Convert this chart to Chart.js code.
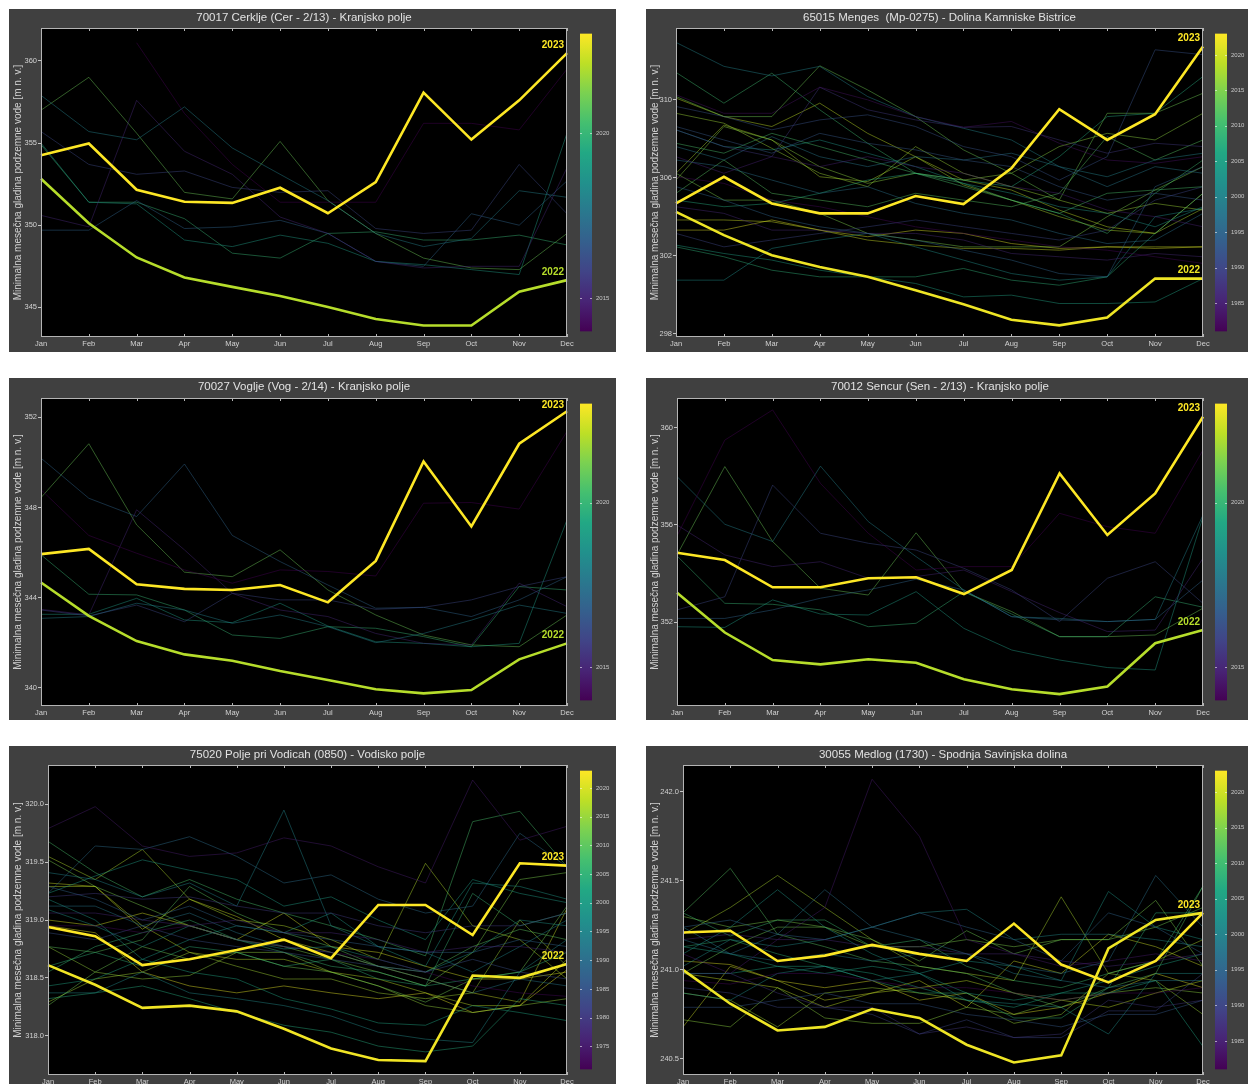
<!DOCTYPE html>
<html>
<head>
<meta charset="utf-8">
<title>Minimalne mesečne gladine podzemne vode</title>
<script src="https://cdn.jsdelivr.net/npm/chart.js@4.4.1/dist/chart.umd.min.js"></script>
<style>
  body { margin: 0; background: #fff; width: 1248px; height: 1084px; overflow: hidden; position: relative; }
  .panel { position: absolute; background: #404040; }
  .panel canvas { display: block; }
</style>
</head>
<body>
<div class="panel" style="left:9px;top:9px;width:607px;height:343px"><canvas id="c1" width="607" height="343"></canvas></div>
<div class="panel" style="left:646px;top:9px;width:602px;height:343px"><canvas id="c2" width="602" height="343"></canvas></div>
<div class="panel" style="left:9px;top:378px;width:607px;height:342px"><canvas id="c3" width="607" height="342"></canvas></div>
<div class="panel" style="left:646px;top:378px;width:602px;height:342px"><canvas id="c4" width="602" height="342"></canvas></div>
<div class="panel" style="left:9px;top:746px;width:607px;height:338px"><canvas id="c5" width="607" height="338"></canvas></div>
<div class="panel" style="left:646px;top:746px;width:602px;height:338px"><canvas id="c6" width="602" height="338"></canvas></div>

<script>
const months = ['Jan', 'Feb', 'Mar', 'Apr', 'May', 'Jun', 'Jul', 'Aug', 'Sep', 'Oct', 'Nov', 'Dec'];
const yAxisTitle = 'Minimalna mesečna gladina podzemne vode [m n. v.]';

// 70017 Cerklje
const cerkljeYears = [2014, 2015, 2016, 2017, 2018, 2019, 2020, 2021];
const cerkljeLevels = [
    [null, null, 361.1, 356.8, 353.7, 351.4, 351.4, 351.4, 356.2, 356.2, 355.8, 359.5],
    [350.6, 349.9, 357.6, 354.5, 353.1, 350.5, 349.5, 347.8, 347.4, 347.5, 347.5, 353.5],
    [355.7, 353.7, 353.1, 353.3, 352.3, 352.0, 352.1, 349.8, 349.5, 349.7, 353.7, 350.7],
    [349.7, 349.7, 351.5, 349.8, 349.9, 350.3, 349.5, 347.8, 347.5, 350.7, 350.0, 352.7],
    [357.9, 355.7, 355.2, 357.2, 354.7, 353.1, 351.5, 349.5, 348.7, 349.2, 352.1, 351.7],
    [355.0, 351.4, 351.3, 349.1, 348.7, 349.4, 348.9, 347.8, 347.6, 347.3, 347.0, 355.6],
    [354.9, 351.4, 351.4, 350.4, 348.3, 348.0, 349.5, 349.6, 349.1, 349.1, 349.4, 348.8],
    [357.0, 359.0, 355.6, 352.0, 351.6, 355.1, 351.5, 349.5, 348.0, 347.4, 347.3, 349.5]
];
const cerklje2022 = [352.83, 350.12, 348.04, 346.82, 346.25, 345.7, 345.03, 344.3, 343.9, 343.9, 345.95, 346.66];
const cerklje2023 = [354.26, 354.97, 352.16, 351.43, 351.36, 352.28, 350.73, 352.63, 358.07, 355.21, 357.6, 360.47];
const cerkljeTicks = [345, 350, 355, 360];
const cerkljeBarTicks = [2015, 2020];

// 65015 Menges
const mengesYears = [1982, 1983, 1985, 1986, 1988, 1990, 1992, 1993, 1995, 1997, 1998, 2000, 2002, 2003,
    2005, 2007, 2008, 2010, 2011, 2012, 2014, 2015, 2016, 2017, 2018, 2019, 2020, 2021];
const mengesLevels = [
    [306.05, 305.71, 304.85, 304.51, 304.0, 303.48, 303.14, 302.8, 302.45, 302.28, 301.94, 301.6],
    [310.26, 309.31, 309.31, 310.65, 310.0, 309.14, 308.59, 308.89, 307.77, 306.91, 306.74, 307.08],
    [307.08, 306.23, 307.08, 306.57, 307.08, 306.57, 306.23, 305.54, 305.2, 304.34, 304.0, 303.48],
    [304.51, 304.17, 303.31, 303.31, 303.14, 303.14, 302.8, 302.11, 301.94, 301.77, 302.11, 301.94],
    [308.46, 307.6, 307.08, 310.65, 309.49, 308.97, 308.59, 308.63, 307.94, 307.26, 307.77, 307.6],
    [303.14, 302.45, 302.8, 303.14, 303.48, 303.83, 303.48, 303.14, 302.8, 303.31, 304.85, 305.54],
    [309.66, 309.14, 308.46, 308.97, 309.23, 308.63, 307.6, 307.08, 305.88, 307.08, 312.57, 312.32],
    [308.63, 307.94, 307.26, 308.28, 307.77, 307.43, 306.91, 306.57, 305.54, 304.85, 305.2, 304.85],
    [305.54, 304.85, 304.0, 303.48, 303.14, 302.8, 302.28, 301.77, 301.08, 300.91, 305.54, 306.57],
    [306.91, 306.57, 305.88, 305.2, 305.54, 304.68, 304.17, 303.83, 303.14, 302.62, 302.8, 304.17],
    [307.6, 306.91, 308.11, 307.08, 306.57, 307.08, 306.91, 307.26, 306.57, 305.54, 306.57, 306.23],
    [312.95, 311.72, 311.23, 311.72, 310.17, 309.14, 308.54, 307.94, 306.57, 306.05, 306.91, 307.26],
    [300.74, 300.74, 302.37, 302.8, 303.14, 302.45, 301.77, 301.08, 300.74, 300.91, 304.0, 304.42],
    [308.46, 307.6, 307.43, 307.94, 307.26, 306.57, 305.71, 305.2, 304.51, 304.17, 303.48, 304.51],
    [302.54, 302.11, 301.77, 301.25, 300.91, 300.57, 299.88, 299.97, 299.54, 299.54, 299.62, 300.82],
    [304.85, 304.51, 304.68, 305.2, 305.88, 306.23, 305.88, 305.54, 307.08, 309.14, 309.31, 311.2],
    [302.45, 301.94, 301.25, 300.91, 300.91, 300.91, 301.34, 300.74, 300.48, 300.91, 303.14, 305.2],
    [311.41, 309.83, 311.37, 309.49, 307.77, 306.23, 305.71, 304.85, 304.17, 303.14, 305.2, 306.91],
    [307.77, 307.26, 308.28, 307.6, 306.91, 306.23, 305.54, 304.85, 304.17, 305.2, 305.37, 305.54],
    [305.2, 306.91, 305.2, 304.85, 304.51, 305.2, 304.85, 304.51, 305.2, 308.11, 306.91, 307.94],
    [310.17, 309.14, 309.14, 311.75, 310.51, 309.14, 307.43, 306.23, 304.85, 309.31, 309.31, 310.34],
    [306.23, 304.85, 304.85, 304.17, 303.14, 302.8, 302.45, 302.45, 302.45, 304.0, 305.37, 306.57],
    [305.88, 308.63, 307.94, 306.57, 305.71, 306.23, 305.88, 306.23, 307.6, 308.28, 307.94, 309.31],
    [309.31, 308.8, 307.51, 306.23, 305.54, 307.6, 306.23, 305.54, 304.85, 304.17, 304.68, 304.34],
    [306.23, 308.71, 307.94, 306.05, 305.8, 307.08, 305.63, 304.85, 304.0, 303.31, 303.14, 304.42],
    [310.09, 309.14, 308.63, 309.83, 308.28, 307.08, 305.88, 305.37, 304.34, 303.48, 303.14, 305.2],
    [303.83, 303.83, 303.74, 303.31, 302.8, 302.54, 302.37, 302.37, 302.28, 302.45, 302.45, 302.45],
    [303.31, 303.31, 303.83, 303.31, 302.97, 303.31, 303.14, 302.62, 302.37, 302.45, 302.37, 302.45]
];
const menges2022 = [304.25, 303.05, 302.02, 301.42, 300.91, 300.22, 299.5, 298.71, 298.42, 298.82, 300.82, 300.82];
const menges2023 = [304.68, 306.05, 304.68, 304.17, 304.17, 305.06, 304.65, 306.48, 309.52, 307.94, 309.26, 312.74];
const mengesTicks = [298, 302, 306, 310];
const mengesBarTicks = [1985, 1990, 1995, 2000, 2005, 2010, 2015, 2020];

// 70027 Voglje
const vogljeYears = [2014, 2015, 2016, 2017, 2018, 2019, 2020, 2021];
const vogljeLevels = [
    [348.79, 346.76, 345.97, 345.23, 344.64, 345.23, 345.16, 344.96, 348.19, 348.22, 347.93, 351.38],
    [343.48, 343.23, 347.9, 346.12, 344.19, 343.45, 343.16, 342.41, 341.97, 341.9, 344.64, 343.6],
    [343.45, 343.19, 343.67, 342.93, 344.19, 343.9, 343.9, 343.48, 343.57, 343.9, 344.49, 344.93],
    [350.19, 348.41, 347.6, 349.93, 346.76, 345.6, 344.56, 343.53, 343.57, 343.16, 343.9, 344.93],
    [343.08, 343.16, 343.75, 343.45, 342.86, 343.23, 342.71, 342.0, 342.41, 343.0, 343.67, 343.3],
    [343.26, 343.26, 343.97, 343.01, 342.89, 343.75, 342.74, 342.04, 341.97, 341.82, 341.97, 347.45],
    [345.9, 344.15, 344.12, 343.45, 342.34, 342.19, 342.71, 342.64, 342.27, 341.82, 344.49, 344.34],
    [348.44, 350.83, 347.23, 345.13, 344.93, 346.12, 344.34, 343.23, 342.34, 341.9, 341.82, 343.23]
];
const voglje2022 = [344.67, 343.19, 342.07, 341.48, 341.2, 340.74, 340.34, 339.93, 339.75, 339.9, 341.26, 341.97];
const voglje2023 = [345.93, 346.16, 344.59, 344.39, 344.34, 344.56, 343.79, 345.63, 350.04, 347.16, 350.83, 352.27];
const vogljeTicks = [340, 344, 348, 352];
const vogljeBarTicks = [2015, 2020];

// 70012 Sencur
const sencurYears = [2014, 2015, 2016, 2017, 2018, 2019, 2020, 2021];
const sencurLevels = [
    [355.55, 359.49, 360.73, 357.71, 355.66, 354.15, 354.29, 354.29, 356.48, 355.93, 355.66, 359.08],
    [356.0, 354.77, 354.29, 354.49, 353.81, 353.88, 354.15, 353.26, 352.4, 351.62, 351.68, 354.63],
    [352.51, 353.05, 357.64, 355.66, 355.25, 354.97, 354.22, 353.33, 352.03, 353.81, 354.49, 352.78],
    [352.16, 352.16, 352.51, 352.99, 353.33, 353.77, 353.33, 352.23, 352.1, 352.03, 352.12, 353.74],
    [357.99, 356.03, 355.32, 358.42, 356.14, 354.7, 353.33, 352.23, 352.16, 352.03, 352.12, 356.41],
    [351.82, 351.79, 352.92, 352.34, 352.3, 353.26, 351.75, 350.86, 350.45, 350.14, 350.04, 356.34],
    [354.73, 352.78, 352.74, 352.51, 351.82, 351.96, 353.26, 352.34, 351.41, 351.41, 353.05, 352.62],
    [354.77, 358.4, 355.32, 353.4, 353.12, 355.68, 353.26, 352.44, 351.41, 351.41, 351.48, 352.58]
];
const sencur2022 = [353.22, 351.58, 350.45, 350.27, 350.48, 350.34, 349.66, 349.25, 349.05, 349.36, 351.14, 351.68];
const sencur2023 = [354.86, 354.56, 353.44, 353.44, 353.81, 353.85, 353.16, 354.15, 358.12, 355.59, 357.3, 360.45];
const sencurTicks = [352, 356, 360];
const sencurBarTicks = [2015, 2020];

// 75020 Polje pri Vodicah
const vodiceYears = [1972, 1975, 1977, 1980, 1984, 1988, 1990, 1992, 1995, 1996, 1998, 1999, 2000, 2002,
    2003, 2005, 2006, 2008, 2010, 2012, 2013, 2015, 2016, 2017, 2018, 2019, 2020, 2021];
const vodiceLevels = [
    [318.95, 318.95, 318.89, 318.95, 318.83, 318.77, 318.72, 318.66, 318.55, 318.43, 318.37, 318.34],
    [319.79, 319.98, 319.64, 319.55, 319.58, 319.71, 319.64, 319.46, 319.32, 320.21, 319.69, 319.81],
    [319.06, 319.06, 319.0, 318.95, 319.0, 318.89, 318.89, 318.83, 318.72, 318.77, 318.77, 318.72],
    [319.2, 319.23, 319.18, 319.2, 319.12, 319.06, 319.06, 318.95, 318.89, 318.95, 318.95, 319.06],
    [318.89, 318.83, 318.95, 318.83, 318.77, 318.72, 318.66, 318.6, 318.55, 318.66, 318.55, 318.49],
    [319.29, 319.18, 319.0, 319.12, 318.95, 318.89, 318.83, 318.77, 318.72, 318.72, 318.83, 318.77],
    [319.23, 319.64, 319.61, 319.72, 319.55, 319.32, 319.39, 319.18, 319.06, 319.12, 319.75, 319.46],
    [319.12, 319.12, 318.95, 319.06, 318.89, 318.77, 318.72, 318.6, 318.49, 318.37, 318.49, 318.43],
    [319.41, 319.35, 319.2, 319.32, 319.12, 319.95, 318.95, 318.77, 318.72, 318.55, 318.77, 319.0],
    [318.37, 318.37, 318.55, 318.37, 318.32, 318.26, 318.17, 318.03, 317.97, 317.94, 318.55, 318.83],
    [319.09, 318.95, 318.77, 318.95, 318.83, 318.75, 318.77, 318.66, 318.55, 318.72, 319.0, 318.95],
    [319.18, 319.0, 318.66, 318.83, 318.95, 318.89, 319.06, 318.77, 318.6, 319.32, 319.29, 319.18],
    [319.23, 319.38, 319.52, 319.43, 319.35, 319.12, 319.2, 319.0, 318.83, 319.35, 319.23, 319.15],
    [318.43, 318.49, 318.66, 318.55, 318.49, 318.32, 318.23, 318.11, 318.09, 318.26, 318.2, 318.13],
    [318.32, 318.37, 318.43, 318.32, 318.2, 318.09, 318.03, 317.91, 317.86, 317.91, 318.32, 318.26],
    [318.6, 318.72, 318.6, 318.77, 318.72, 318.6, 318.66, 318.49, 318.43, 318.49, 318.55, 318.72],
    [318.55, 318.77, 318.89, 319.0, 318.83, 318.72, 318.6, 318.55, 318.43, 319.23, 318.95, 319.06],
    [319.68, 319.41, 319.2, 319.35, 319.18, 319.06, 318.95, 318.83, 318.69, 319.85, 319.94, 319.46],
    [318.77, 318.72, 318.83, 319.29, 319.06, 318.89, 318.77, 318.6, 318.55, 318.77, 318.92, 318.83],
    [318.26, 318.55, 318.77, 318.66, 318.72, 318.6, 318.55, 318.43, 318.29, 318.49, 318.55, 319.12],
    [319.52, 319.29, 319.12, 318.95, 318.83, 318.77, 318.66, 318.55, 318.43, 318.72, 319.35, 319.41],
    [318.77, 318.55, 318.49, 318.52, 318.72, 318.72, 318.55, 318.43, 318.26, 318.2, 318.26, 318.32],
    [318.29, 318.49, 318.55, 318.72, 318.6, 318.49, 318.49, 318.37, 318.32, 318.37, 319.0, 318.6],
    [319.55, 319.35, 319.61, 319.18, 319.0, 318.95, 318.83, 318.66, 319.49, 318.95, 318.83, 318.49],
    [319.29, 319.29, 318.95, 318.72, 318.66, 318.66, 318.55, 318.49, 318.37, 318.26, 318.26, 318.66],
    [319.32, 319.29, 318.92, 319.18, 319.03, 318.83, 318.72, 318.6, 318.49, 318.37, 318.29, 319.1],
    [319.0, 318.95, 319.06, 318.95, 318.83, 319.06, 318.77, 318.72, 318.6, 318.49, 318.49, 318.55],
    [318.95, 318.89, 318.55, 318.43, 318.37, 318.43, 318.37, 318.32, 318.37, 318.2, 318.26, 318.57]
];
const vodice2022 = [318.61, 318.44, 318.24, 318.26, 318.21, 318.06, 317.89, 317.79, 317.78, 318.52, 318.5, 318.62];
const vodice2023 = [318.94, 318.86, 318.61, 318.66, 318.74, 318.83, 318.67, 319.13, 319.13, 318.87, 319.49, 319.47];
const vodiceTicks = [318.0, 318.5, 319.0, 319.5, 320.0];
const vodiceBarTicks = [1975, 1980, 1985, 1990, 1995, 2000, 2005, 2010, 2015, 2020];

// 30055 Medlog
const medlogYears = [1982, 1984, 1986, 1988, 1990, 1993, 1995, 1997, 1999, 2001, 2002, 2003, 2005,
    2006, 2008, 2010, 2012, 2014, 2015, 2016, 2017, 2018, 2019, 2020, 2021];
const medlogLevels = [
    [240.94, 240.92, 240.98, 240.98, 240.94, 240.9, 240.9, 240.87, 240.83, 240.87, 240.87, 240.9],
    [241.09, 240.98, 241.17, 241.35, 242.07, 241.75, 241.17, 241.09, 241.02, 241.05, 241.09, 241.05],
    [241.17, 241.2, 241.17, 241.17, 241.13, 241.13, 241.09, 241.09, 241.05, 241.02, 241.05, 241.09],
    [240.98, 240.98, 240.87, 240.79, 240.79, 240.64, 240.68, 240.62, 240.64, 240.83, 240.79, 240.83],
    [240.9, 240.87, 240.79, 240.79, 240.75, 240.64, 240.72, 240.62, 240.62, 240.77, 240.77, 240.98],
    [240.79, 240.79, 240.83, 240.87, 240.81, 240.81, 240.75, 240.72, 240.68, 240.75, 240.75, 240.83],
    [241.24, 241.28, 241.2, 241.17, 241.24, 241.32, 241.24, 241.17, 241.05, 241.32, 241.24, 241.09],
    [241.17, 241.09, 241.2, 241.45, 241.24, 241.17, 241.09, 241.02, 240.98, 241.05, 241.53, 241.24],
    [241.24, 241.09, 241.05, 241.09, 241.05, 241.09, 241.09, 240.98, 240.94, 240.9, 240.94, 240.94],
    [241.02, 241.17, 241.13, 241.17, 241.24, 241.32, 241.34, 241.17, 241.2, 241.2, 241.17, 241.13],
    [240.87, 240.83, 240.98, 241.02, 240.94, 240.98, 240.83, 240.81, 240.79, 240.64, 240.98, 240.98],
    [241.09, 241.24, 241.45, 241.24, 241.09, 240.98, 241.05, 241.02, 240.94, 241.44, 241.24, 241.17],
    [241.13, 241.09, 241.02, 240.98, 241.02, 240.98, 240.87, 240.83, 240.87, 240.94, 241.02, 241.09],
    [240.98, 240.98, 241.02, 241.02, 240.98, 240.9, 240.83, 240.79, 240.87, 240.87, 240.94, 240.57],
    [241.13, 241.17, 241.09, 241.02, 240.94, 240.87, 240.87, 240.73, 240.73, 240.9, 241.32, 241.32],
    [241.32, 241.19, 241.28, 241.28, 241.13, 241.17, 241.02, 240.94, 240.9, 240.98, 241.05, 241.47],
    [241.32, 241.57, 241.2, 241.13, 241.05, 241.02, 240.98, 240.87, 240.79, 240.9, 240.98, 241.47],
    [240.98, 241.13, 241.24, 241.24, 241.17, 241.05, 241.22, 241.09, 241.17, 241.17, 241.24, 241.35],
    [241.3, 241.24, 241.28, 241.24, 241.13, 241.13, 241.17, 241.13, 241.17, 241.17, 241.39, 241.02],
    [240.72, 240.68, 240.9, 240.73, 240.7, 240.7, 240.79, 240.75, 240.83, 240.87, 240.9, 240.87],
    [240.87, 240.83, 240.68, 240.87, 240.9, 240.87, 240.83, 240.7, 240.75, 240.98, 240.94, 240.75],
    [241.2, 241.35, 241.53, 241.35, 241.17, 241.02, 240.98, 240.94, 241.41, 240.98, 241.05, 241.17],
    [240.98, 240.94, 240.9, 240.79, 240.87, 240.9, 240.94, 240.87, 240.83, 240.79, 240.87, 240.94],
    [240.68, 241.02, 240.94, 240.83, 240.87, 240.94, 240.79, 241.05, 240.98, 241.2, 241.13, 241.02],
    [241.05, 241.03, 240.94, 240.9, 240.94, 240.83, 240.87, 240.75, 240.79, 240.87, 240.98, 240.9]
];
const medlog2022 = [241.0, 240.81, 240.66, 240.68, 240.78, 240.73, 240.58, 240.48, 240.52, 241.12, 241.28, 241.32];
const medlog2023 = [241.21, 241.22, 241.05, 241.08, 241.14, 241.09, 241.05, 241.26, 241.03, 240.93, 241.05, 241.32];
const medlogTicks = [240.5, 241.0, 241.5, 242.0];
const medlogBarTicks = [1985, 1990, 1995, 2000, 2005, 2010, 2015, 2020];

const FONT = '"Liberation Sans", Arial, sans-serif';
const TEXT = '#d2d2d2';

// viridis colour map, 11 stops
const viridisStops = [[68, 1, 84], [72, 36, 117], [65, 68, 135], [53, 95, 141], [42, 120, 142], [33, 145, 140],
    [34, 168, 132], [68, 191, 112], [122, 209, 81], [189, 223, 38], [253, 231, 37]];
function viridis(t, a) {
    t = Math.min(1, Math.max(0, t));
    const p = t * 10, i = Math.min(9, Math.floor(p)), f = p - i;
    const c = viridisStops[i].map((v, k) => Math.round(v + (viridisStops[i + 1][k] - v) * f));
    return `rgba(${c[0]},${c[1]},${c[2]},${a})`;
}

const panels = [
    { id: 'c1', title: '70017 Cerklje (Cer - 2/13) - Kranjsko polje', years: cerkljeYears, levels: cerkljeLevels,
      y22: cerklje2022, y23: cerklje2023, yMin: 343.2, yMax: 362.0, yTicks: cerkljeTicks, yDec: 0,
      cbMin: 2014, cbMax: 2023, cbTicks: cerkljeBarTicks, area: { l: 32, r: 558, t: 19, b: 328 }, gap: 13 },
    { id: 'c2', title: '65015 Menges  (Mp-0275) - Dolina Kamniske Bistrice', years: mengesYears, levels: mengesLevels,
      y22: menges2022, y23: menges2023, yMin: 297.82, yMax: 313.69, yTicks: mengesTicks, yDec: 0,
      cbMin: 1981, cbMax: 2023, cbTicks: mengesBarTicks, area: { l: 30, r: 557, t: 19, b: 328 }, gap: 12 },
    { id: 'c3', title: '70027 Voglje (Vog - 2/14) - Kranjsko polje', years: vogljeYears, levels: vogljeLevels,
      y22: voglje2022, y23: voglje2023, yMin: 339.19, yMax: 352.86, yTicks: vogljeTicks, yDec: 0,
      cbMin: 2014, cbMax: 2023, cbTicks: vogljeBarTicks, area: { l: 32, r: 558, t: 20, b: 328 }, gap: 13 },
    { id: 'c4', title: '70012 Sencur (Sen - 2/13) - Kranjsko polje', years: sencurYears, levels: sencurLevels,
      y22: sencur2022, y23: sencur2023, yMin: 348.56, yMax: 361.22, yTicks: sencurTicks, yDec: 0,
      cbMin: 2014, cbMax: 2023, cbTicks: sencurBarTicks, area: { l: 31, r: 557, t: 20, b: 328 }, gap: 12 },
    { id: 'c5', title: '75020 Polje pri Vodicah (0850) - Vodisko polje', years: vodiceYears, levels: vodiceLevels,
      y22: vodice2022, y23: vodice2023, yMin: 317.66, yMax: 320.34, yTicks: vodiceTicks, yDec: 1,
      cbMin: 1971, cbMax: 2023, cbTicks: vodiceBarTicks, area: { l: 39, r: 558, t: 19, b: 329 }, gap: 13 },
    { id: 'c6', title: '30055 Medlog (1730) - Spodnja Savinjska dolina', years: medlogYears, levels: medlogLevels,
      y22: medlog2022, y23: medlog2023, yMin: 240.41, yMax: 242.15, yTicks: medlogTicks, yDec: 1,
      cbMin: 1981, cbMax: 2023, cbTicks: medlogBarTicks, area: { l: 37, r: 557, t: 19, b: 329 }, gap: 12 }
];

// black plot area, frame, ticks, title, year labels and colour bar
const panelDeco = {
    id: 'panelDeco',
    beforeDraw(chart) {
        const { ctx, chartArea: a } = chart;
        ctx.save();
        ctx.fillStyle = '#000';
        ctx.fillRect(a.left, a.top, a.right - a.left, a.bottom - a.top);
        ctx.restore();
    },
    afterDraw(chart, args, opts) {
        const { ctx, chartArea: a } = chart;
        const xs = chart.scales.x;
        ctx.save();
        // frame
        ctx.strokeStyle = '#b4b4b4';
        ctx.lineWidth = 1;
        ctx.strokeRect(a.left + 0.5, a.top + 0.5, a.right - a.left - 1, a.bottom - a.top - 1);
        // month ticks on top and bottom edge
        ctx.beginPath();
        months.forEach((m, i) => {
            const x = Math.round(xs.getPixelForTick(i)) + 0.5;
            ctx.moveTo(x, a.top); ctx.lineTo(x, a.top + 3);
            ctx.moveTo(x, a.bottom); ctx.lineTo(x, a.bottom - 3);
        });
        ctx.stroke();

        // 2022 / 2023 labels at the December end of the highlighted lines
        const marks = [];
        chart.data.datasets.forEach((ds, i) => {
            if (!ds.yearLabel) return;
            const pts = chart.getDatasetMeta(i).data;
            marks.push({ text: ds.yearLabel, color: ds.borderColor, y: Math.max(a.top + 7, pts[pts.length - 1].y - 8) });
        });
        const m23 = marks.find(m => m.text === '2023');
        ctx.font = 'bold 10px ' + FONT;
        ctx.textAlign = 'right';
        ctx.textBaseline = 'middle';
        marks.forEach(m => {
            if (m !== m23 && Math.abs(m.y - m23.y) < 11) return; // hidden under 2023
            ctx.fillStyle = m.color;
            ctx.fillText(m.text, a.right - 3, m.y);
        });

        // title
        ctx.fillStyle = '#e2e2e2';
        ctx.font = '11.5px ' + FONT;
        ctx.textAlign = 'center';
        ctx.fillText(opts.title, (a.left + a.right) / 2, a.top / 2 - 1);

        // colour bar
        const cb = chart.scales.cb;
        const top = cb.getPixelForValue(opts.cbMax), bottom = cb.getPixelForValue(opts.cbMin);
        const x0 = a.right + opts.gap;
        const grad = ctx.createLinearGradient(0, bottom, 0, top);
        viridisStops.forEach((c, i) => grad.addColorStop(i / 10, `rgb(${c[0]},${c[1]},${c[2]})`));
        ctx.fillStyle = grad;
        ctx.fillRect(x0, top, 12, bottom - top);
        ctx.strokeStyle = 'rgba(255,255,255,0.55)';
        ctx.beginPath();
        cb.ticks.forEach(t => {
            const y = Math.round(cb.getPixelForValue(t.value)) + 0.5;
            ctx.moveTo(x0, y); ctx.lineTo(x0 + 2, y);
            ctx.moveTo(x0 + 10, y); ctx.lineTo(x0 + 12, y);
        });
        ctx.stroke();
        ctx.restore();
    }
};

panels.forEach(p => {
    const canvas = document.getElementById(p.id);
    const w = canvas.width, h = canvas.height;
    const span = p.cbMax - p.cbMin;
    const pad = span * 0.019;

    const datasets = [
        { label: '2023', yearLabel: '2023', data: p.y23, borderColor: viridis(1, 1), borderWidth: 2.6 },
        { label: '2022', yearLabel: '2022', data: p.y22, borderColor: viridis((2022 - p.cbMin) / span, 1), borderWidth: 2.6 }
    ];
    p.years.forEach((yr, i) => {
        datasets.push({ label: String(yr), data: p.levels[i], borderColor: viridis((yr - p.cbMin) / span, 0.45), borderWidth: 1 });
    });
    datasets.forEach(d => { d.pointRadius = 0; d.tension = 0; d.fill = false; d.spanGaps = false; });

    new Chart(canvas, {
        type: 'line',
        data: { labels: months, datasets: datasets },
        plugins: [panelDeco],
        options: {
            responsive: false,
            animation: false,
            devicePixelRatio: 1,
            layout: { padding: { left: 2, right: 0, top: p.area.t, bottom: 0 } },
            plugins: {
                legend: { display: false },
                tooltip: { enabled: false },
                title: { display: false },
                panelDeco: { title: p.title, cbMin: p.cbMin, cbMax: p.cbMax, gap: p.gap }
            },
            scales: {
                x: {
                    type: 'category',
                    offset: false,
                    afterFit: s => { s.height = h - p.area.b; },
                    grid: { display: false, drawTicks: false, tickLength: 0 },
                    border: { display: false },
                    ticks: { color: TEXT, font: { family: FONT, size: 7.5 }, padding: 2, maxRotation: 0, autoSkip: false }
                },
                y: {
                    type: 'linear',
                    min: p.yMin,
                    max: p.yMax,
                    afterBuildTicks: s => { s.ticks = p.yTicks.map(v => ({ value: v })); },
                    afterFit: s => { s.width = p.area.l - 2; s.paddingTop = 0; s.paddingBottom = 0; },
                    grid: { display: true, drawOnChartArea: false, drawTicks: true, tickLength: 3, color: '#c4c4c4' },
                    border: { display: false },
                    ticks: { color: TEXT, font: { family: FONT, size: 7.5 }, padding: 1, callback: v => v.toFixed(p.yDec) },
                    title: { display: true, text: yAxisTitle, color: TEXT, font: { family: FONT, size: 10 }, padding: { top: 1, bottom: 0 } }
                },
                cb: {
                    type: 'linear',
                    position: 'right',
                    min: p.cbMin - pad,
                    max: p.cbMax + pad,
                    afterBuildTicks: s => { s.ticks = p.cbTicks.map(v => ({ value: v })); },
                    // labels sit right of the bar; keep the big label padding out of the layout
                    afterFit: s => { s.width = w - p.area.r; s.paddingTop = 0; s.paddingBottom = 0; },
                    grid: { display: false, drawTicks: false, tickLength: 0 },
                    border: { display: false },
                    ticks: { color: '#c8c8c8', font: { family: FONT, size: 6 }, padding: p.gap + 16, callback: v => String(v) }
                }
            }
        }
    });
});
</script>
</body>
</html>
